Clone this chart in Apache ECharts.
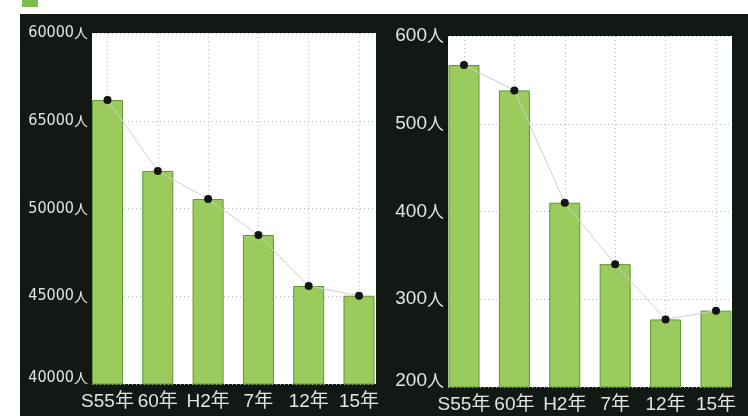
<!DOCTYPE html>
<html><head><meta charset="utf-8">
<script src="https://cdn.jsdelivr.net/npm/echarts@6/dist/echarts.min.js"></script>
<style>html,body{margin:0;padding:0;background:#fff}#c{width:748px;height:416px}</style>
</head><body><div id="c"></div>
<script>
const categories = ['S55年', '60年', 'H2年', '7年', '12年', '15年'];
const leftValues = [56180, 52140, 50540, 48490, 45580, 45030];
const rightValues = [567, 538, 410, 340, 277, 287];
const leftTickLabels = ['40000人', '45000人', '50000人', '65000人', '60000人'];
const rightTickLabels = ['200人', '300人', '400人', '500人', '600人'];

const idx = categories.map((c, i) => i);
const pts = vals => vals.map((v, i) => [i, v]);

const chart = echarts.init(document.getElementById('c'), null, {renderer: 'canvas'});

const grid = (left, top) => ({
  left: left, top: top, width: 284, height: 351,
  show: true, backgroundColor: '#ffffff', borderWidth: 0, containLabel: false
});

const xAxis = (gridIndex, min, max) => ({
  type: 'value', gridIndex: gridIndex, min: min, max: max,
  axisLine: {show: false},
  axisTick: {show: false, customValues: idx},
  splitLine: {show: true, lineStyle: {color: '#b8b8b8', type: [1, 3], width: 1}},
  axisLabel: {
    customValues: idx, margin: 8, color: '#e4e4e4', fontSize: 19,
    fontFamily: "'Liberation Sans', 'Noto Sans CJK JP', sans-serif",
    formatter: v => categories[Math.round(v)]
  }
});

const yAxis = (gridIndex, min, max, interval, labels, narrow) => ({
  type: 'value', gridIndex: gridIndex, min: min, max: max, interval: interval,
  axisLine: {show: false}, axisTick: {show: false},
  splitLine: {show: true, lineStyle: {color: '#b8b8b8', type: [1, 3], width: 1}},
  axisLabel: {
    margin: 4, color: '#e4e4e4',
    formatter: v => {
      const i = Math.round((v - min) / interval);
      const t = labels[i];
      const num = t.slice(0, -1);
      let s = '{d|' + num + '}{k|人}';
      if (i === 0) s += '\n{sp| }';
      return s;
    },
    rich: {
      d: {fontSize: narrow ? 16 : 19, color: '#e4e4e4',
          fontFamily: narrow ? "'DejaVu Sans Condensed', sans-serif" : "'Liberation Sans', sans-serif"},
      k: {fontSize: narrow ? 14 : 17, color: '#e4e4e4', fontFamily: "'Noto Sans CJK JP', sans-serif"},
      sp: {fontSize: 8, lineHeight: 12}
    }
  }
});

const barStyle = {color: '#9acb5c', borderColor: '#5e9632', borderWidth: 1};

const series = (gi, vals) => ([
  {type: 'bar', xAxisIndex: gi, yAxisIndex: gi, data: pts(vals), barWidth: 31,
   itemStyle: barStyle, z: 2},
  {type: 'line', xAxisIndex: gi, yAxisIndex: gi, data: pts(vals),
   symbol: 'circle', symbolSize: 8, itemStyle: {color: '#141414'},
   lineStyle: {color: '#cfcfcf', width: 1}, z: 3}
]);

chart.setOption({
  backgroundColor: '#ffffff',
  animation: false,
  graphic: [
    {type: 'rect', left: 20, top: 14, shape: {width: 728, height: 402},
     style: {fill: '#121915'}, z: -10},
    {type: 'rect', left: 22, top: 0, shape: {width: 16, height: 7},
     style: {fill: '#7dbd4c'}, z: -10}
  ],
  grid: [grid(92, 33), grid(448, 36)],
  xAxis: [xAxis(0, -0.308, 5.338), xAxis(1, -0.317, 5.318)],
  yAxis: [yAxis(0, 40000, 60000, 5000, leftTickLabels, true),
          yAxis(1, 200, 600, 100, rightTickLabels, false)],
  series: [...series(0, leftValues), ...series(1, rightValues)]
});
</script>
</body></html>
